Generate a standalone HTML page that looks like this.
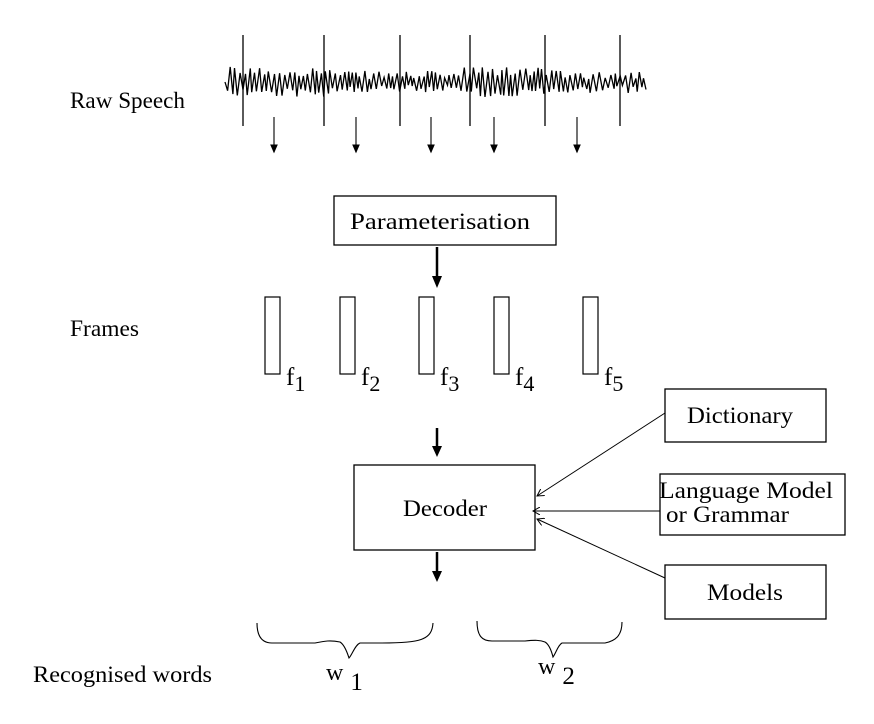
<!DOCTYPE html>
<html><head><meta charset="utf-8"><style>
html,body{margin:0;padding:0;background:#fff}
svg{display:block}
text{font-family:"Liberation Serif",serif;fill:#000}
</style></head><body>
<svg id="s" width="874" height="724" viewBox="0 0 874 724" xmlns="http://www.w3.org/2000/svg">
<defs>
<marker id="a" markerWidth="8" markerHeight="8" refX="7" refY="4" orient="auto" markerUnits="userSpaceOnUse"><path d="M0,0 L7,4 L0,8" fill="none" stroke="#000" stroke-width="1"/></marker>
</defs>
<path id="wave" fill="none" stroke="#000" stroke-width="1.3"/>
<g stroke="#000" stroke-width="1.3">
<line x1="243" y1="35" x2="243" y2="126"/><line x1="324" y1="35" x2="324" y2="126"/>
<line x1="400" y1="35" x2="400" y2="126"/><line x1="470" y1="35" x2="470" y2="126"/>
<line x1="545" y1="35" x2="545" y2="126"/><line x1="620" y1="35" x2="620" y2="126"/>
</g>
<g stroke="#000" stroke-width="1.1">
<line x1="274" y1="117" x2="274" y2="152"/><path d="M271,145 L274,152 L277,145 Z"/>
<line x1="356" y1="117" x2="356" y2="152"/><path d="M353,145 L356,152 L359,145 Z"/>
<line x1="431" y1="117" x2="431" y2="152"/><path d="M428,145 L431,152 L434,145 Z"/>
<line x1="494" y1="117" x2="494" y2="152"/><path d="M491,145 L494,152 L497,145 Z"/>
<line x1="577" y1="117" x2="577" y2="152"/><path d="M574,145 L577,152 L580,145 Z"/>
</g>
<text x="70" y="108" font-size="23" textLength="115" lengthAdjust="spacingAndGlyphs">Raw Speech</text>
<rect x="334" y="196" width="222" height="49" fill="none" stroke="#000" stroke-width="1.3"/>
<text x="350" y="229" font-size="23" textLength="180" lengthAdjust="spacingAndGlyphs">Parameterisation</text>
<g stroke="#000" stroke-width="2.5">
<line x1="437" y1="247" x2="437" y2="277"/>
<line x1="437" y1="428" x2="437" y2="447"/>
<line x1="437" y1="552" x2="437" y2="572"/>
</g>
<path d="M432,276 L437,288 L442,276 Z"/><path d="M432,446 L437,457 L442,446 Z"/><path d="M432,571 L437,582 L442,571 Z"/>
<text x="70" y="336" font-size="23" textLength="69" lengthAdjust="spacingAndGlyphs">Frames</text>
<g fill="none" stroke="#000" stroke-width="1.2">
<rect x="265" y="297" width="15" height="77"/><rect x="340" y="297" width="15" height="77"/>
<rect x="419" y="297" width="15" height="77"/><rect x="494" y="297" width="15" height="77"/>
<rect x="583" y="297" width="15" height="77"/>
</g>
<g font-size="25">
<text x="286" y="385">f<tspan font-size="22" dy="6">1</tspan></text>
<text x="361" y="385">f<tspan font-size="22" dy="6">2</tspan></text>
<text x="440" y="385">f<tspan font-size="22" dy="6">3</tspan></text>
<text x="515" y="385">f<tspan font-size="22" dy="6">4</tspan></text>
<text x="604" y="385">f<tspan font-size="22" dy="6">5</tspan></text>
</g>
<rect x="354" y="465" width="181" height="85" fill="none" stroke="#000" stroke-width="1.3"/>
<text x="403" y="516" font-size="23" textLength="84" lengthAdjust="spacingAndGlyphs">Decoder</text>
<g fill="none" stroke="#000" stroke-width="1.3">
<rect x="665" y="389" width="161" height="53"/>
<rect x="660" y="474" width="185" height="61"/>
<rect x="665" y="565" width="161" height="54"/>
</g>
<text x="687" y="423" font-size="23" textLength="106" lengthAdjust="spacingAndGlyphs">Dictionary</text>
<text x="659" y="498" font-size="23" textLength="174" lengthAdjust="spacingAndGlyphs">Language Model</text>
<text x="666" y="522" font-size="23" textLength="123" lengthAdjust="spacingAndGlyphs">or Grammar</text>
<text x="707" y="600" font-size="23" textLength="76" lengthAdjust="spacingAndGlyphs">Models</text>
<g stroke="#000" stroke-width="1">
<line x1="665" y1="413" x2="537" y2="496" marker-end="url(#a)"/>
<line x1="660" y1="511" x2="533" y2="511" marker-end="url(#a)"/>
<line x1="665" y1="578" x2="537" y2="519" marker-end="url(#a)"/>
</g>
<g fill="none" stroke="#000" stroke-width="1.1">
<path d="M257,623 C257,636 262,643 272,643 L315,643 C325,641 330,640 340,642 C345,645 348,655 349,658 C352,655 355,645 360,643 L382,643 C420,643 432,640 433,623"/>
<path d="M477,621 C477,636 482,641 492,641 L525,641 C535,640 540,640 545,642 C550,645 552,653 553,657 C556,653 558,645 562,643 L605,643 C615,641 622,636 622,622"/>
</g>
<text x="33" y="682" font-size="23" textLength="179" lengthAdjust="spacingAndGlyphs">Recognised words</text>
<text x="326" y="680" font-size="24">w<tspan font-size="25" dx="7" dy="10">1</tspan></text>
<text x="538" y="674" font-size="24">w<tspan font-size="25" dx="7" dy="10">2</tspan></text>
</svg>
<script>
(function(){var s=12345;function r(){s=(s*1103515245+12345)%2147483648;return s/2147483648;}
var d="M225,82",x=225,up=1;while(x<645){x+=1.2+r()*2.2;var big=(x<330||(x>460&&x<560));var amp=big?(6+r()*9):(3+r()*8);var y=82+up*amp;up=-up;d+=" L"+x.toFixed(1)+","+y.toFixed(1);}
document.getElementById("wave").setAttribute("d",d);})();
</script>
</body></html>
